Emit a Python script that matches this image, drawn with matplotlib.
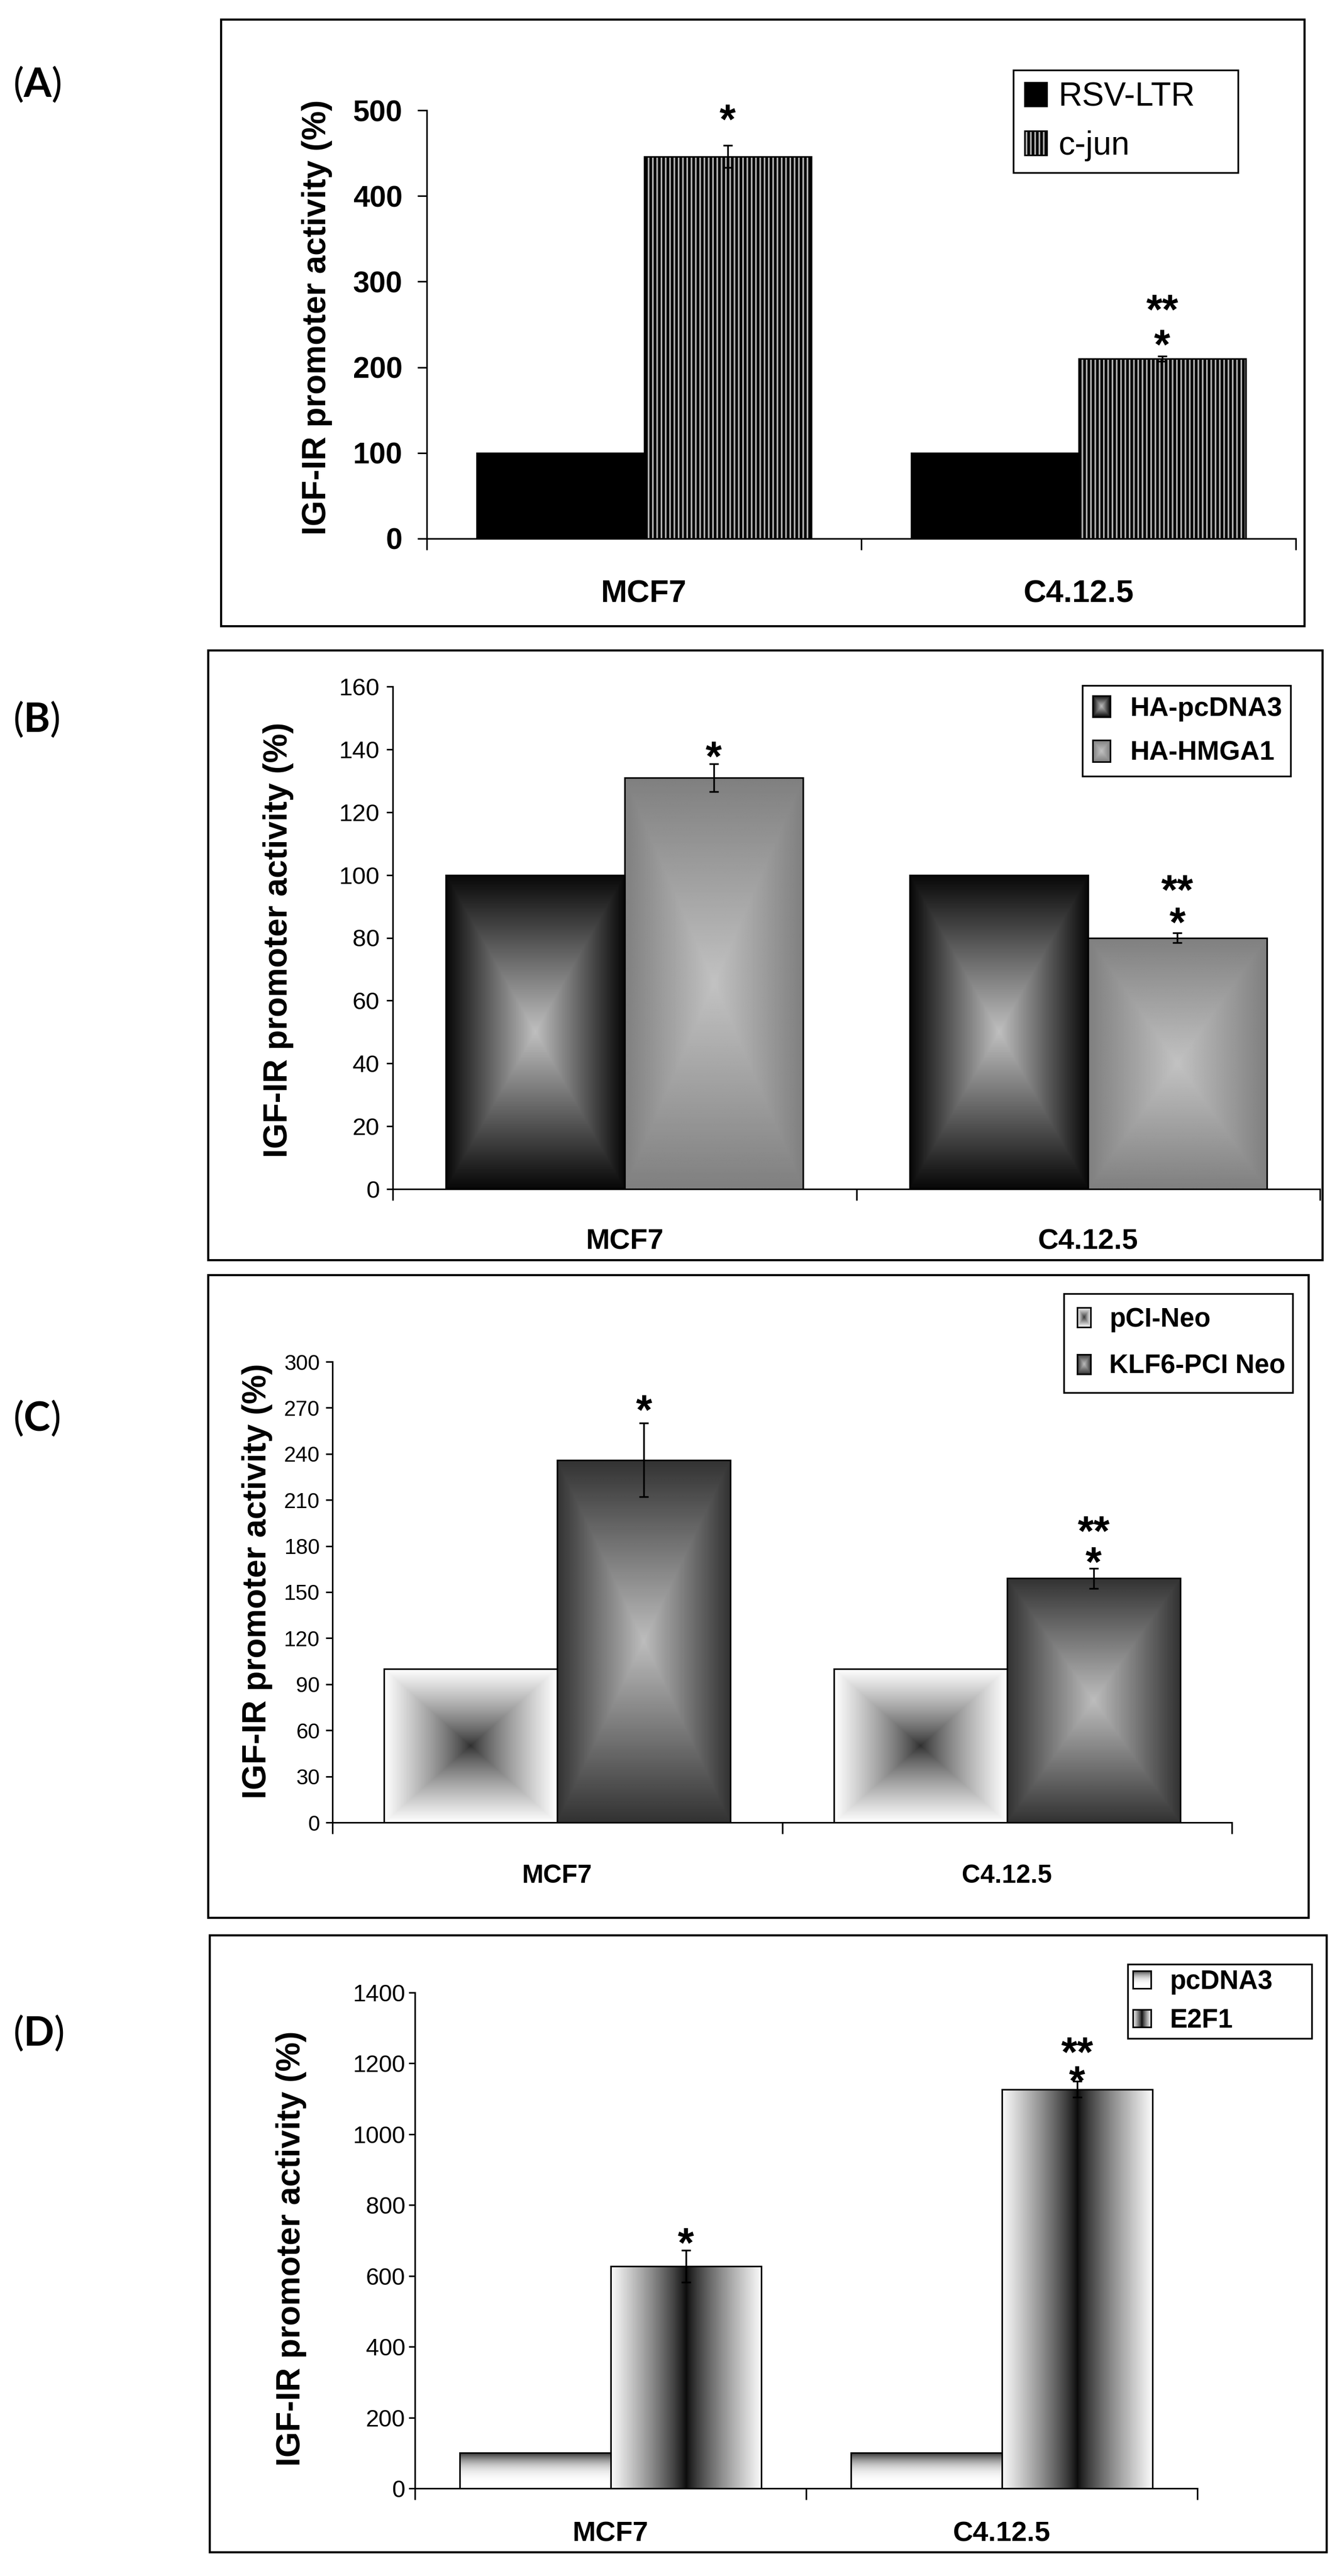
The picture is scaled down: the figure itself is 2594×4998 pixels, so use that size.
import numpy as np
import matplotlib
matplotlib.use('Agg')
import matplotlib.pyplot as plt
from matplotlib.patches import Patch, Rectangle

# ---------------- data ----------------
categories = ['MCF7', 'C4.12.5']
ylabel_text = 'IGF-IR promoter activity (%)'

a_series = ['RSV-LTR', 'c-jun']
a_control = [100, 100]
a_treat = [446, 210]
a_treat_err = [13, 3]
a_star_labels = [['*'], ['**', '*']]
a_star_y = [[501], [279, 238]]
a_yticks = [0, 100, 200, 300, 400, 500]

b_series = ['HA-pcDNA3', 'HA-HMGA1']
b_control = [100, 100]
b_treat = [131, 80]
b_treat_err = [4.4, 1.5]
b_star_labels = [['*'], ['**', '*']]
b_star_y = [[141], [98, 88]]
b_yticks = [0, 20, 40, 60, 80, 100, 120, 140, 160]

c_series = ['pCI-Neo', 'KLF6-PCI Neo']
c_control = [100, 100]
c_treat = [236, 159]
c_treat_err = [24, 6.5]
c_star_labels = [['*'], ['**', '*']]
c_star_y = [[275], [195, 176]]
c_yticks = [0, 30, 60, 90, 120, 150, 180, 210, 240, 270, 300]

d_series = ['pcDNA3', 'E2F1']
d_control = [100, 100]
d_treat = [627, 1127]
d_treat_err = [45, 22]
d_star_labels = [['*'], ['**', '*']]
d_star_y = [[722], [1254, 1179]]
d_yticks = [0, 200, 400, 600, 800, 1000, 1200, 1400]

panel_letters = ['A', 'B', 'C', 'D']

# ---------------- style ----------------
W, H = 2594, 4998
DPI = 100
plt.rcParams['font.family'] = ['Liberation Sans', 'DejaVu Sans']
plt.rcParams['hatch.linewidth'] = 3.7
plt.rcParams['mathtext.fontset'] = 'custom'
plt.rcParams['mathtext.rm'] = 'Lato'
plt.rcParams['mathtext.bf'] = 'Lato:bold'

BW = 0.385
LW = 2.2
STAR_FS = 58
LINE_K = 0.967


def grad_box(edge, center, gamma=1.0, n=300):
    u = np.abs(np.linspace(-1, 1, n))
    d = np.maximum(u[None, :], u[:, None]) ** gamma
    return center + (edge - center) * d


def grad_vert(top, bottom, power, n=300):
    t = np.linspace(0, 1, n)[:, None]
    v = bottom - (bottom - top) * (1 - t) ** power
    return np.repeat(v, 4, axis=1)


def grad_horiz(edge, center, gamma, n=300):
    u = np.abs(np.linspace(-1, 1, n))[None, :] ** gamma
    v = center + (edge - center) * u
    return np.repeat(v, 4, axis=0)


fig = plt.figure(figsize=(W / DPI, H / DPI), dpi=DPI)
legend_jobs = []


def frame(x0, y0, x1, y1):
    fig.patches.append(Rectangle((x0 / W, 1 - y1 / H), (x1 - x0) / W, (y1 - y0) / H,
                                 transform=fig.transFigure, fill=False,
                                 edgecolor='black', linewidth=3.0))


def panel(letter, letter_y, frame_px, ax_px, yticks, series, control, treat, err,
          star_labels, star_y, fills, tick_fs, tick_bold, tick_len, tick_pad,
          cat_fs, cat_pad, ylab_xy, leg_box, leg_kw):
    frame(*frame_px)
    l, t, r, b = ax_px
    ax = fig.add_axes([l / W, 1 - b / H, (r - l) / W, (b - t) / H])
    ymax = yticks[-1]
    x = np.arange(len(categories))
    sets = [(x - BW / 2, control), (x + BW / 2, treat)]
    handles = []
    for (xs, vals), f, name in zip(sets, fills, series):
        kind = f[0]
        if kind == 'solid':
            ax.bar(xs, vals, width=BW, color=f[1], edgecolor='black', linewidth=LW, zorder=3)
            handles.append(Patch(facecolor=f[1], edgecolor='black', linewidth=LW, label=name))
        elif kind == 'hatch':
            ax.bar(xs, vals, width=BW, facecolor=f[1], edgecolor='black', hatch='||',
                   linewidth=LW, zorder=3)
            handles.append(Patch(facecolor=f[1], edgecolor='black', hatch='||', linewidth=LW, label=name))
        else:
            bars = ax.bar(xs, vals, width=BW, facecolor='none', edgecolor='black',
                          linewidth=LW, zorder=3)
            for rect in bars:
                ax.imshow(f[1], cmap='gray', vmin=0, vmax=1, aspect='auto',
                          interpolation='bilinear', zorder=2,
                          extent=(rect.get_x(), rect.get_x() + rect.get_width(), 0, rect.get_height()))
            handles.append(Patch(facecolor='white', edgecolor='black', linewidth=LW, label=name))
    ax.errorbar(x + BW / 2, treat, yerr=err, fmt='none', ecolor='black', elinewidth=2.4,
                capsize=6.5, capthick=2.4, zorder=4)
    em_px = STAR_FS * DPI / 72.0
    for xi, labs, ys in zip(x + BW / 2, star_labels, star_y):
        ls = 1.0
        if len(ys) > 1:
            gap_px = (ys[0] - ys[1]) / ymax * (b - t)
            ls = gap_px / (LINE_K * em_px)
        ax.annotate('\n'.join(labs), (xi, ys[-1]), xytext=(0, -0.575 * STAR_FS),
                    textcoords='offset points', ha='center', va='baseline',
                    fontsize=STAR_FS, fontweight='bold', linespacing=ls,
                    annotation_clip=False, zorder=5)
    ax.set_xlim(-0.5, len(categories) - 0.5)
    ax.set_ylim(0, ymax)
    ax.set_aspect('auto')
    ax.set_yticks(yticks)
    ax.set_yticklabels([str(v) for v in yticks], fontsize=tick_fs,
                       fontweight='bold' if tick_bold else 'normal')
    ax.set_xticks(x)
    ax.set_xticklabels(categories, fontsize=cat_fs, fontweight='bold')
    ax.set_xticks(np.arange(len(categories) + 1) - 0.5, minor=True)
    ax.tick_params(axis='x', which='major', length=0, pad=cat_pad)
    ax.tick_params(axis='x', which='minor', length=16, width=LW, direction='out')
    ax.tick_params(axis='y', which='major', length=tick_len, width=LW, direction='out', pad=tick_pad)
    for s in ['top', 'right']:
        ax.spines[s].set_visible(False)
    for s in ['left', 'bottom']:
        ax.spines[s].set_linewidth(LW)
    ax.set_ylabel(ylabel_text, fontsize=46, fontweight='bold')
    ax.yaxis.label.set_va('center')
    ax.yaxis.set_label_coords((ylab_xy[0] - l) / (r - l), (b - ylab_xy[1]) / (b - t))
    bl, bt, br = leg_box
    leg = ax.legend(handles=handles, loc='upper left', mode='expand',
                    bbox_to_anchor=(bl / W, 1 - bt / H, (br - bl) / W, 0),
                    bbox_transform=fig.transFigure, borderaxespad=0, fancybox=False,
                    framealpha=1, edgecolor='black', **leg_kw)
    leg.get_frame().set_linewidth(2.4)
    legend_jobs.append((leg, fills))
    fig.text(25 / W, 1 - letter_y / H, r'($\mathbf{%s}$)' % letter, ha='left', va='center',
             fontsize=56, family='Lato')
    return ax


# Panel A
panel(panel_letters[0], 164, (429, 38, 2531, 1215), (828, 214, 2514, 1045), a_yticks,
      a_series, a_control, a_treat, a_treat_err, a_star_labels, a_star_y,
      [('solid', 'black'), ('hatch', '#b4b4b4')],
      tick_fs=41.5, tick_bold=True, tick_len=13, tick_pad=21,
      cat_fs=44, cat_pad=57, ylab_xy=(615, 616),
      leg_box=(1966, 136, 2402),
      leg_kw=dict(fontsize=46, handlelength=0.67, handleheight=0.75, handletextpad=0.35,
                  labelspacing=0.54, borderpad=0.35))

# Panel B
panel(panel_letters[1], 1396, (404, 1262, 2566, 2445), (762, 1332, 2561, 2307), b_yticks,
      b_series, b_control, b_treat, b_treat_err, b_star_labels, b_star_y,
      [('img', grad_box(0.03, 0.75)), ('img', grad_box(0.50, 0.76))],
      tick_fs=34, tick_bold=False, tick_len=8.6, tick_pad=10,
      cat_fs=40, cat_pad=55, ylab_xy=(540, 1824),
      leg_box=(2100, 1330, 2504),
      leg_kw=dict(prop=dict(size=37.5, weight='bold'), handlelength=0.65, handleheight=0.85,
                  handletextpad=0.75, labelspacing=0.7, borderpad=0.38))

# Panel C
panel(panel_letters[2], 2752, (404, 2474, 2539, 3721), (645, 2642, 2390, 3536), c_yticks,
      c_series, c_control, c_treat, c_treat_err, c_star_labels, c_star_y,
      [('img', grad_box(1.0, 0.18, 0.8)), ('img', grad_box(0.20, 0.74))],
      tick_fs=30, tick_bold=False, tick_len=9.4, tick_pad=8,
      cat_fs=36, cat_pad=58, ylab_xy=(499, 3068),
      leg_box=(2064, 2510, 2508),
      leg_kw=dict(prop=dict(size=37, weight='bold'), handlelength=0.52, handleheight=0.77,
                  handletextpad=0.7, labelspacing=0.82, borderpad=0.5))

# Panel D
panel(panel_letters[3], 3945, (407, 3755, 2574, 4952), (805, 3866, 2323, 4828), d_yticks,
      d_series, d_control, d_treat, d_treat_err, d_star_labels, d_star_y,
      [('img', grad_vert(0.2, 1.0, 3)), ('img', grad_horiz(0.98, 0.04, 0.8))],
      tick_fs=33, tick_bold=False, tick_len=8.6, tick_pad=5,
      cat_fs=39, cat_pad=46, ylab_xy=(565, 4363),
      leg_box=(2188, 3811, 2545),
      leg_kw=dict(prop=dict(size=37, weight='bold'), handlelength=0.68, handleheight=0.65,
                  handletextpad=0.7, labelspacing=0.5, borderpad=0.2))

# gradient swatches in legends
fig.canvas.draw()
renderer = fig.canvas.get_renderer()
for leg, fills in legend_jobs:
    for p, f in zip(leg.get_patches(), fills):
        if f[0] != 'img':
            continue
        bb = p.get_window_extent(renderer)
        lax = fig.add_axes([bb.x0 / W, bb.y0 / H, bb.width / W, bb.height / H])
        lax.imshow(f[1], cmap='gray', vmin=0, vmax=1, aspect='auto', extent=(0, 1, 0, 1),
                   interpolation='bilinear')
        lax.set_xticks([])
        lax.set_yticks([])
        for s in lax.spines.values():
            s.set_linewidth(2.2)
            s.set_color('black')

fig.savefig('out.png', dpi=DPI)
